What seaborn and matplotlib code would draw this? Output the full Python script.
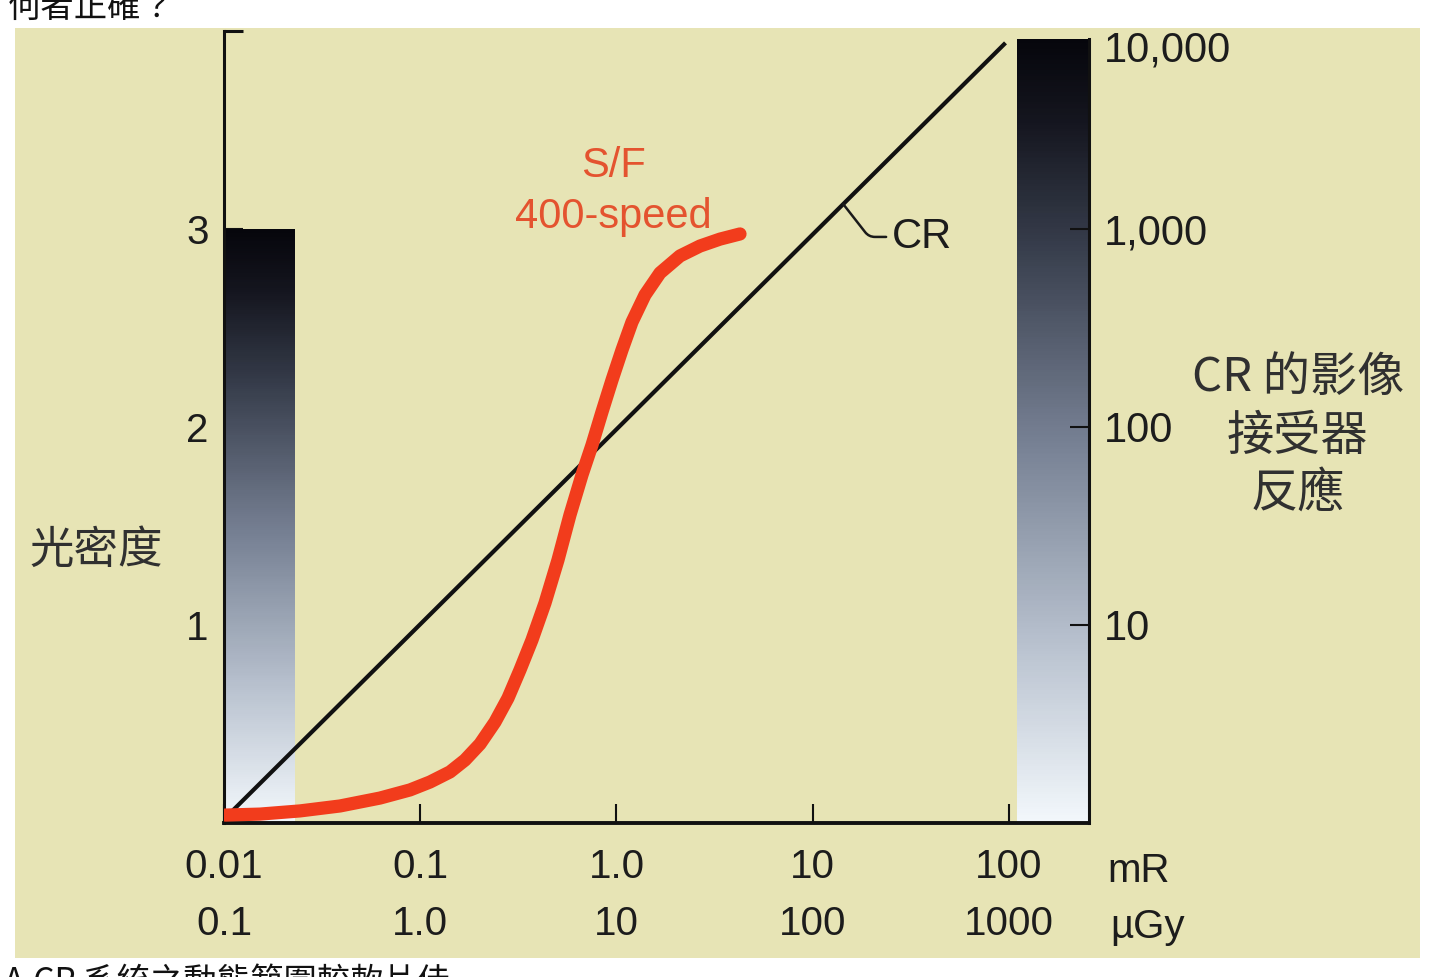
import numpy as np
import matplotlib
matplotlib.use("Agg")
import matplotlib.pyplot as plt
from matplotlib.colors import LinearSegmentedColormap
from matplotlib.ticker import FixedLocator, NullLocator
import seaborn as sns

# ---------------- data ----------------
exposure_ticks_mR = [0.01, 0.1, 1.0, 10, 100]
exposure_labels_mR = ["0.01", "0.1", "1.0", "10", "100"]
exposure_ticks_uGy = [0.1, 1.0, 10, 100, 1000]
exposure_labels_uGy = ["0.1", "1.0", "10", "100", "1000"]
density_ticks = [1, 2, 3]
density_labels = ["1", "2", "3"]
response_ticks = [10, 100, 1000]
response_labels = ["10", "100", "1,000"]
response_top = 10000
response_top_label = "10,000"

# S/F 400-speed characteristic curve (exposure in mR, optical density)
sf_exposure = [0.01012, 0.01525, 0.02439, 0.03901, 0.06235, 0.08867, 0.1121, 0.1418,
               0.1690, 0.2016, 0.2404, 0.2800, 0.3223, 0.3709, 0.4322, 0.5032,
               0.5795, 0.6671, 0.7502, 0.8435, 0.9486, 1.0666, 1.1995, 1.3970,
               1.6661, 2.1064, 2.6640, 3.3696, 4.2599]
sf_density = [0.040, 0.045, 0.061, 0.086, 0.126, 0.167, 0.207, 0.258,
              0.318, 0.399, 0.510, 0.631, 0.773, 0.924, 1.111, 1.328,
              1.556, 1.758, 1.909, 2.076, 2.237, 2.389, 2.530, 2.667,
              2.778, 2.864, 2.914, 2.949, 2.975]

# CR linear response
cr_exposure = [0.0105, 96]
cr_density = [0.04, 3.94]

film_density_max = 3            # film useful density range
cr_response_range = (1, 10000)  # CR receptor response range

# ---------------- style ----------------
sns.set_theme(style="ticks")
plt.rcParams['font.family'] = ['Liberation Sans', 'Noto Sans CJK TC', 'DejaVu Sans']
CJK = ['Noto Sans CJK TC', 'DejaVu Sans']
TXT = '#1c1c1c'

W, H = 1443, 977
fig = plt.figure(figsize=(W / 100, H / 100), dpi=100)
fig.patch.set_facecolor('white')

def fx(px):
    return px / W

def fy(py):
    return (H - py) / H

# beige panel (background axes)
bg = fig.add_axes([fx(15), fy(958), fx(1420) - fx(15), fy(28) - fy(958)], zorder=-10)
bg.set_facecolor('#e7e4b5')
bg.set_xticks([])
bg.set_yticks([])
for s in bg.spines.values():
    s.set_visible(False)

ax = fig.add_axes([fx(224), fy(823), fx(1089) - fx(224), fy(31) - fy(823)])
ax.set_facecolor('none')
ax.set_xscale('log')
ax.set_xlim(0.01, 255.7)
ax.set_ylim(0, 4.0)

cmap = LinearSegmentedColormap.from_list(
    'grad', [(0.0, '#f2f7fb'), (0.22, '#bac3d0'), (0.5, '#737d90'),
             (0.75, '#343a48'), (0.9, '#14151e'), (1.0, '#06060c')])

# film density gradient bar
yy = np.linspace(0, film_density_max, 301)
ax.pcolormesh([0.01, 0.023], yy, ((yy[:-1] + yy[1:]) / 2 / film_density_max)[:, None],
              cmap=cmap, shading='flat', zorder=1, rasterized=True)
# CR response gradient bar (log10 of response on density scale)
lo, hi = np.log10(cr_response_range[0]), np.log10(cr_response_range[1])
yy2 = np.linspace(lo, hi * 0.99, 401)
ax.pcolormesh([110, 255.7], yy2, (((yy2[:-1] + yy2[1:]) / 2 - lo) / (hi - lo))[:, None],
              cmap=cmap, shading='flat', zorder=1, rasterized=True)

# curves
sns.lineplot(x=cr_exposure, y=cr_density, ax=ax, color='#111111', linewidth=3.0,
             zorder=3, solid_capstyle='butt')
sns.lineplot(x=sf_exposure, y=sf_density, ax=ax, color='#f23c1c', linewidth=9.5,
             zorder=4, solid_capstyle='round', solid_joinstyle='round')

# spines & ticks
for s in ['top', 'right']:
    ax.spines[s].set_visible(False)
ax.spines['left'].set_linewidth(2.2)
ax.spines['bottom'].set_linewidth(2.8)
ax.spines['left'].set_color('#111111')
ax.spines['bottom'].set_color('#111111')

ax.xaxis.set_major_locator(FixedLocator(exposure_ticks_mR))
ax.xaxis.set_minor_locator(NullLocator())
ax.set_xticklabels(exposure_labels_mR)
ax.tick_params(axis='x', direction='in', length=14, width=1.5, pad=18,
               labelsize=29, colors='#111111', labelcolor=TXT)

ax.yaxis.set_major_locator(FixedLocator(density_ticks))
ax.set_yticklabels(density_labels)
ax.yaxis.set_minor_locator(FixedLocator([4.0]))
ax.tick_params(axis='y', which='major', direction='in', length=14, width=1.5, pad=11,
               labelsize=29, colors='#111111', labelcolor=TXT)
ax.tick_params(axis='y', which='minor', direction='in', length=14, width=2.2,
               colors='#111111')

# second exposure row (µGy)
secax = ax.secondary_xaxis('bottom', functions=(lambda x: x * 10, lambda x: x / 10))
secax.xaxis.set_major_locator(FixedLocator(exposure_ticks_uGy))
secax.xaxis.set_minor_locator(NullLocator())
secax.set_xticklabels(exposure_labels_uGy)
secax.tick_params(axis='x', length=0, pad=59, labelsize=29, labelcolor=TXT)
secax.spines['bottom'].set_visible(False)

# right response axis
ax2 = ax.twinx()
ax2.set_yscale('log')
ax2.set_ylim(cr_response_range)
ax2.yaxis.set_major_locator(FixedLocator(response_ticks))
ax2.yaxis.set_minor_locator(NullLocator())
ax2.set_yticklabels(response_labels)
ax2.tick_params(axis='y', direction='in', length=14, width=1.5, pad=11,
                labelsize=30, colors='#111111', labelcolor=TXT)
for s in ['top', 'left', 'bottom']:
    ax2.spines[s].set_visible(False)
ax2.spines['right'].set_linewidth(2.2)
ax2.spines['right'].set_color('#111111')
ax2.spines['right'].set_bounds(1, 10 ** 3.96)
ax2.annotate(response_top_label, xy=(1, response_top), xycoords=('axes fraction', 'data'),
             xytext=(11, -13.7), textcoords='offset points', ha='left', va='center',
             fontsize=30, color=TXT, annotation_clip=False)

# unit labels
fig.text(fx(1107), fy(882), "mR", fontsize=29, color=TXT, ha='left', va='baseline')
fig.text(fx(1110), fy(938), "µGy", fontsize=29, color=TXT, ha='left', va='baseline')

# S/F labels
sf_color = '#e4532f'
ax.text(0.4497, 0.830, "S/F", transform=ax.transAxes, ha='center', va='center',
        fontsize=30, color=sf_color)
ax.text(0.4497, 0.765, "400-speed", transform=ax.transAxes, ha='center', va='center',
        fontsize=30, color=sf_color)

# CR label with leader line
lx = 14.3
ly = np.interp(np.log10(lx), np.log10(cr_exposure), cr_density)
ax.annotate("CR", xy=(lx, ly), xytext=(25.4, 2.96), textcoords='data',
            fontsize=30, color=TXT, ha='left', va='center', zorder=5,
            arrowprops=dict(arrowstyle='-', color='#1a1a1a', lw=1.8,
                            connectionstyle='angle,angleA=0,angleB=128,rad=6',
                            relpos=(0, 0.5), shrinkA=2, shrinkB=0))

# Chinese labels
fig.text(fx(96), fy(550), "光密度", fontsize=32, color='#303030', ha='center',
         va='center', family=CJK)
fig.text(fx(1298), fy(378), "CR 的影像", fontsize=34, color='#303030', ha='center',
         va='center', family=CJK)
fig.text(fx(1298), fy(437), "接受器", fontsize=34, color='#303030', ha='center',
         va='center', family=CJK)
fig.text(fx(1298), fy(493), "反應", fontsize=34, color='#303030', ha='center',
         va='center', family=CJK)

# cropped surrounding page text
fig.text(fx(8), fy(17), "何者正確？", fontsize=24, color='#111111', ha='left',
         va='baseline', family=CJK)
fig.text(fx(4), fy(992), "A.CR 系統之動態範圍較軟片佳", fontsize=24, color='#111111',
         ha='left', va='baseline', family=CJK)

fig.savefig("out.png", dpi=100, facecolor=fig.get_facecolor())
